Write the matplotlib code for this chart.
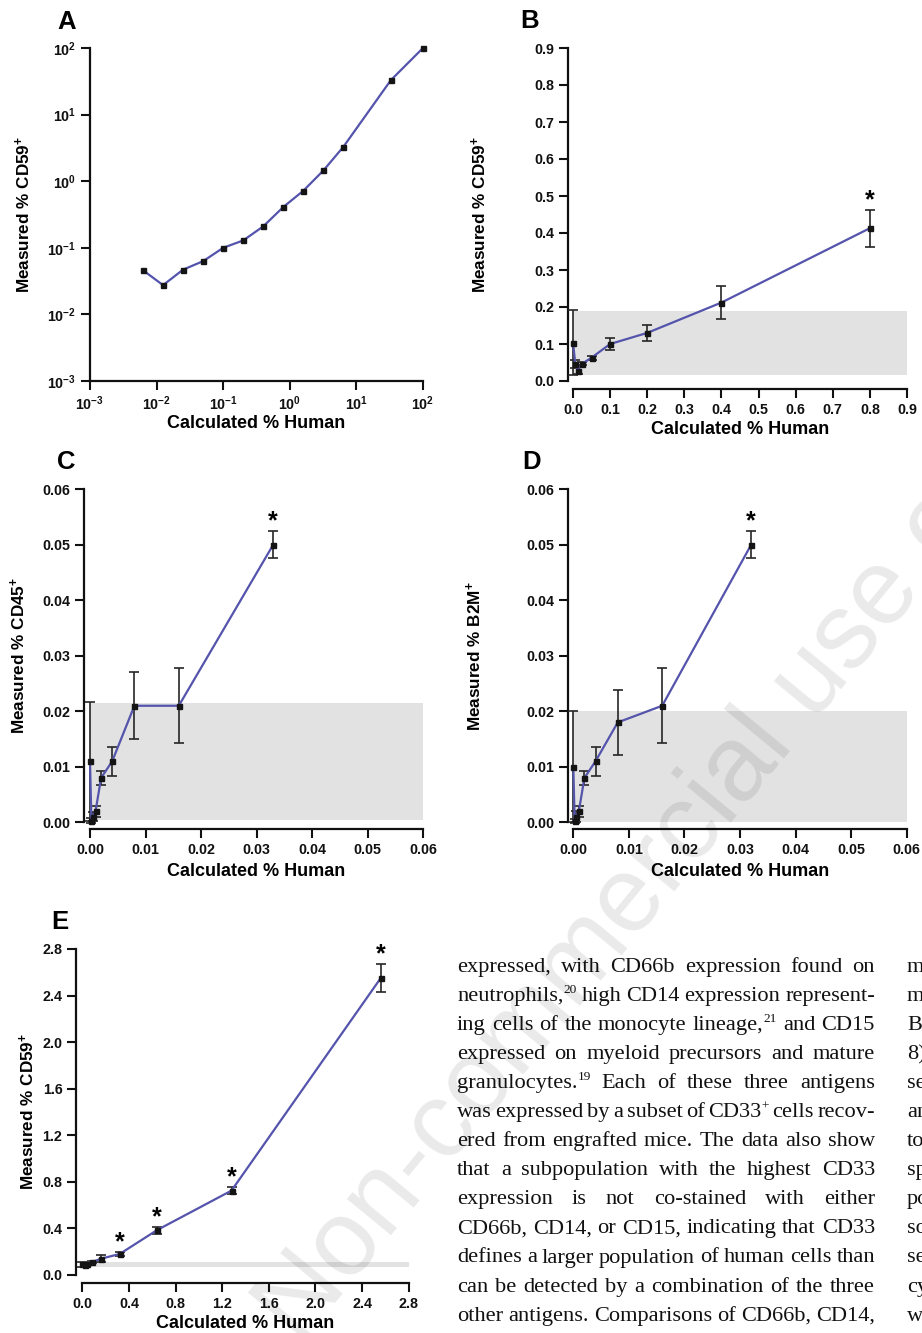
import matplotlib
matplotlib.use('Agg')
import matplotlib.pyplot as plt
from matplotlib.ticker import FixedLocator, FixedFormatter, NullLocator

# ---------------- data ----------------
A_x = [0.00625, 0.0125, 0.025, 0.05, 0.1, 0.2, 0.4, 0.8, 1.6, 3.2, 6.4, 33, 100]
A_y = [0.046, 0.0275, 0.047, 0.063, 0.10, 0.129, 0.21, 0.41, 0.72, 1.45, 3.3, 33, 100]

B_x = [0.0, 0.00625, 0.0125, 0.025, 0.05, 0.1, 0.2, 0.4, 0.8]
B_y = [0.104, 0.046, 0.028, 0.047, 0.063, 0.10, 0.13, 0.212, 0.413]
B_err = [0.088, 0.012, 0.010, 0.005, 0.005, 0.015, 0.021, 0.045, 0.050]
B_band = [0.015, 0.19]
B_star = [0.8]

C_x = [0.0, 0.00025, 0.0005, 0.001, 0.002, 0.004, 0.008, 0.016, 0.033]
C_y = [0.011, 0.0003, 0.001, 0.002, 0.008, 0.011, 0.021, 0.021, 0.050]
C_err = [0.0107, 0.0004, 0.0008, 0.001, 0.0012, 0.0026, 0.006, 0.0068, 0.0024]
C_band = [0.0004, 0.0215]
C_star = [0.033]

D_x = [0.0, 0.00025, 0.0005, 0.001, 0.002, 0.004, 0.008, 0.016, 0.032]
D_y = [0.010, 0.0002, 0.001, 0.002, 0.008, 0.011, 0.018, 0.021, 0.050]
D_err = [0.010, 0.0004, 0.001, 0.001, 0.0012, 0.0026, 0.0059, 0.0068, 0.0024]
D_band = [0.0, 0.020]
D_star = [0.032]

E_x = [0.0, 0.02, 0.04, 0.08, 0.16, 0.32, 0.64, 1.28, 2.56]
E_y = [0.092, 0.085, 0.095, 0.11, 0.14, 0.18, 0.385, 0.725, 2.55]
E_err = [0.02, 0.01, 0.01, 0.01, 0.03, 0.02, 0.03, 0.03, 0.12]
E_band = [0.07, 0.115]
E_star = [0.32, 0.64, 1.28, 2.56]

A_ticks = [1e-3, 1e-2, 1e-1, 1e0, 1e1, 1e2]
A_labels = [r'$10^{-3}$', r'$10^{-2}$', r'$10^{-1}$', r'$10^{0}$', r'$10^{1}$', r'$10^{2}$']
B_ticks = [0.0, 0.1, 0.2, 0.3, 0.4, 0.5, 0.6, 0.7, 0.8, 0.9]
CD_ticks = [0.0, 0.01, 0.02, 0.03, 0.04, 0.05, 0.06]
E_ticks = [0.0, 0.4, 0.8, 1.2, 1.6, 2.0, 2.4, 2.8]

xlabel = 'Calculated % Human'
ylab_A = r'Measured % CD59$^{+}$'
ylab_B = r'Measured % CD59$^{+}$'
ylab_C = r'Measured % CD45$^{+}$'
ylab_D = r'Measured % B2M$^{+}$'
ylab_E = r'Measured % CD59$^{+}$'

body_lines = [
    "expressed, with CD66b expression found on",
    "neutrophils,^20 high CD14 expression represent-",
    "ing cells of the monocyte lineage,^21 and CD15",
    "expressed on myeloid precursors and mature",
    "granulocytes.^19 Each of these three antigens",
    "was expressed by a subset of CD33^+ cells recov-",
    "ered from engrafted mice. The data also show",
    "that a subpopulation with the highest CD33",
    "expression is not co-stained with either",
    "CD66b, CD14, or CD15, indicating that CD33",
    "defines a larger population of human cells than",
    "can be detected by a combination of the three",
    "other antigens. Comparisons of CD66b, CD14,",
]
right_frags = ["m", "m", "Bl", "8)", "se", "an", "to", "sp", "po", "so", "se", "cy", "w"]
watermark = "Non-commercial use only"

# ---------------- style ----------------
plt.rcParams['font.family'] = ['Liberation Sans', 'DejaVu Sans']
plt.rcParams['font.weight'] = 'bold'
plt.rcParams['mathtext.fontset'] = 'custom'
plt.rcParams['mathtext.rm'] = 'Liberation Sans:bold'
plt.rcParams['mathtext.bf'] = 'Liberation Sans:bold'
plt.rcParams['mathtext.it'] = 'Liberation Sans:bold'
plt.rcParams['mathtext.default'] = 'rm'

W, H = 922, 1333
fig = plt.figure(figsize=(W / 100, H / 100), dpi=100)
fig.patch.set_facecolor('white')

BLUE = '#5454ac'
BAND = '#e2e2e2'
ECOL = '#262626'
PT = 0.72


def add_ax(x0, x1, ytop, ybot):
    return fig.add_axes([x0 / W, 1 - ybot / H, (x1 - x0) / W, (ybot - ytop) / H])


def style(ax, off_l, off_b):
    for s in ['top', 'right']:
        ax.spines[s].set_visible(False)
    ax.spines['left'].set_position(('outward', off_l * PT))
    ax.spines['bottom'].set_position(('outward', off_b * PT))
    for s in ['left', 'bottom']:
        ax.spines[s].set_linewidth(1.6)
        ax.spines[s].set_color('#111111')
    ax.tick_params(direction='out', length=6.5, width=1.5, labelsize=10.3, pad=3.5,
                   colors='#111111')
    ax.patch.set_alpha(0)


def labels(ax, ylab, ylab_x, xlab_y, letter, lx, ly):
    ax.set_ylabel(ylab, fontsize=12.3, fontweight='bold')
    ax.yaxis.set_label_coords(ylab_x, 0.5)
    ax.yaxis.label.set_va('center')
    ax.set_xlabel(xlabel, fontsize=13, fontweight='bold')
    ax.xaxis.set_label_coords(0.5, xlab_y)
    ax.xaxis.label.set_va('center')
    fig.text(lx / W, 1 - ly / H, letter, fontsize=18.5, fontweight='bold',
             ha='left', va='center')


def series(ax, x, y, err=None):
    if err is not None:
        cont = ax.errorbar(x, y, yerr=err, fmt='none', ecolor=ECOL, elinewidth=1.2,
                           capsize=3.8, capthick=1.2, zorder=3)
        for a in list(cont.lines[1]) + list(cont.lines[2]):
            a.set_clip_on(False)
    ax.plot(x, y, '-', color=BLUE, lw=1.6, zorder=4, clip_on=False)
    ax.plot(x, y, 's', color='#141414', ms=3.6, zorder=5, clip_on=False)


def stars(ax, xs, x, y, err):
    for xv in xs:
        i = x.index(xv)
        ax.annotate('*', xy=(x[i], y[i] + err[i]), xytext=(0, 2), textcoords='offset points',
                    ha='center', va='baseline', fontsize=18, fontweight='bold',
                    annotation_clip=False)


# ---- Panel A ----
axA = add_ax(90, 423, 48, 381)
style(axA, 0, 0)
axA.set_xscale('log')
axA.set_yscale('log')
axA.set_xlim(1e-3, 1e2)
axA.set_ylim(1e-3, 1e2)
series(axA, A_x, A_y)
for axis in (axA.xaxis, axA.yaxis):
    axis.set_major_locator(FixedLocator(A_ticks))
    axis.set_major_formatter(FixedFormatter(A_labels))
    axis.set_minor_locator(NullLocator())
labels(axA, ylab_A, (23 - 90) / 333, (381 - 424) / 333, 'A', 57, 22)

# ---- Panel B ----
axB = add_ax(573, 907, 48, 381)
style(axB, 5, 8)
axB.set_xlim(0, 0.9)
axB.set_ylim(0, 0.9)
axB.axhspan(B_band[0], B_band[1], color=BAND, zorder=1, lw=0)
series(axB, B_x, B_y, B_err)
stars(axB, B_star, B_x, B_y, B_err)
for axis in (axB.xaxis, axB.yaxis):
    axis.set_major_locator(FixedLocator(B_ticks))
    axis.set_major_formatter(FixedFormatter([f'{v:.1f}' for v in B_ticks]))
labels(axB, ylab_B, (479 - 573) / 334, (381 - 429) / 333, 'B', 520, 21)

# ---- Panel C ----
axC = add_ax(90, 423, 489.3, 822.3)
style(axC, 6, 7)
axC.set_xlim(0, 0.06)
axC.set_ylim(0, 0.06)
axC.axhspan(C_band[0], C_band[1], color=BAND, zorder=1, lw=0)
series(axC, C_x, C_y, C_err)
stars(axC, C_star, C_x, C_y, C_err)
for axis in (axC.xaxis, axC.yaxis):
    axis.set_major_locator(FixedLocator(CD_ticks))
    axis.set_major_formatter(FixedFormatter([f'{v:.2f}' for v in CD_ticks]))
labels(axC, ylab_C, (18 - 90) / 333, (822.3 - 872) / 333, 'C', 57, 462)

# ---- Panel D ----
axD = add_ax(573.3, 906.7, 489.3, 822.3)
style(axD, 5, 7)
axD.set_xlim(0, 0.06)
axD.set_ylim(0, 0.06)
axD.axhspan(D_band[0], D_band[1], color=BAND, zorder=1, lw=0)
series(axD, D_x, D_y, D_err)
stars(axD, D_star, D_x, D_y, D_err)
for axis in (axD.xaxis, axD.yaxis):
    axis.set_major_locator(FixedLocator(CD_ticks))
    axis.set_major_formatter(FixedFormatter([f'{v:.2f}' for v in CD_ticks]))
labels(axD, ylab_D, (474 - 573.3) / 333.4, (822.3 - 871) / 333, 'D', 522, 462)

# ---- Panel E ----
axE = add_ax(82.3, 408.7, 949, 1275)
style(axE, 6, 8)
axE.set_xlim(0, 2.8)
axE.set_ylim(0, 2.8)
axE.axhspan(E_band[0], E_band[1], color=BAND, zorder=1, lw=0)
series(axE, E_x, E_y, E_err)
stars(axE, E_star, E_x, E_y, E_err)
for axis in (axE.xaxis, axE.yaxis):
    axis.set_major_locator(FixedLocator(E_ticks))
    axis.set_major_formatter(FixedFormatter([f'{v:.1f}' for v in E_ticks]))
labels(axE, ylab_E, (27 - 82.3) / 326.4, (1275 - 1323) / 326, 'E', 51, 922)

# ---- watermark ----
fig.text(300 / W, 1 - 1346 / H, watermark, fontsize=77, fontweight='normal',
         family=['Liberation Sans', 'DejaVu Sans'], color='black', alpha=0.085,
         rotation=50.5, rotation_mode='anchor', ha='left', va='baseline', zorder=4)

# ---- body text (justified) ----
SERIF = ['Liberation Serif', 'DejaVu Serif']
renderer = fig.canvas.get_renderer()
COL_L, COL_R = 457, 875
BASE0, LSTEP = 972, 29.05


def parse(word):
    if '^' in word:
        b, s = word.split('^')
        return [(b, False), (s, True)]
    return [(word, False)]


def width(s, size):
    t = fig.text(0, 0, s, fontsize=size, family=SERIF, fontweight='normal')
    w = t.get_window_extent(renderer).width
    t.remove()
    return w


def word_width(segs, size):
    return sum(width(s, size * (0.6 if sup else 1.0)) for s, sup in segs)


S0 = 16.0
scales = []
for ln in body_lines:
    words = [parse(w) for w in ln.split(' ')]
    nat = sum(word_width(w, S0) for w in words) + (len(words) - 1) * 0.17 * S0 / PT
    scales.append((COL_R - COL_L) / nat)
S = min(18.0, S0 * min(scales))

for k, ln in enumerate(body_lines):
    yb = BASE0 + k * LSTEP
    words = [parse(w) for w in ln.split(' ')]
    ws = [word_width(w, S) for w in words]
    gap = ((COL_R - COL_L) - sum(ws)) / (len(words) - 1)
    x = COL_L
    for segs, wdt in zip(words, ws):
        xx = x
        for s, sup in segs:
            sz = S * (0.6 if sup else 1.0)
            dy = 0.36 * S / PT if sup else 0.0
            fig.text(xx / W, 1 - (yb - dy) / H, s, fontsize=sz, family=SERIF,
                     fontweight='normal', color='#111111', ha='left', va='baseline', zorder=6)
            xx += width(s, sz)
        x += wdt + gap

for k, fr in enumerate(right_frags):
    yb = BASE0 + k * LSTEP
    fig.text(907 / W, 1 - yb / H, fr, fontsize=S, family=SERIF, fontweight='normal',
             color='#111111', ha='left', va='baseline', zorder=6)

fig.savefig('out.png', dpi=100, facecolor='white')
